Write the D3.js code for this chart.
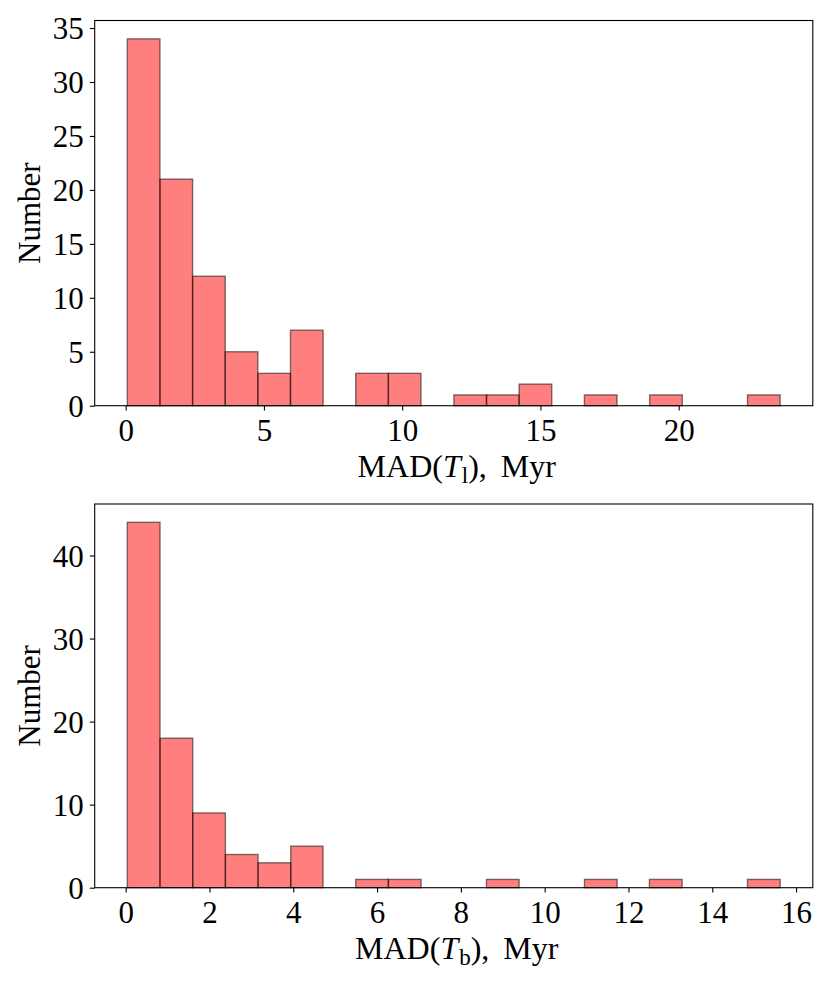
<!DOCTYPE html>
<html><head><meta charset="utf-8">
<script src="https://cdn.jsdelivr.net/npm/d3@7"></script>
<style>body{margin:0;background:#fff}svg{display:block}text{font-family:"Liberation Serif","DejaVu Serif",serif;fill:#000}</style>
</head><body>
<div id="chart"></div>
<script>
// Panel 1: MAD(T_l)
const edgesL = [0.06,1.24,2.42,3.60,4.78,5.96,7.14,8.32,9.50,10.68,11.87,13.05,14.23,15.41,16.59,17.77,18.95,20.13,21.31,22.49,23.67];
const countsL = [34,21,12,5,3,7,0,3,3,0,1,1,2,0,1,0,1,0,0,1];
const xTicksL = [0,5,10,15,20];
const yTicksL = [0,5,10,15,20,25,30,35];
// Panel 2: MAD(T_b)
const edgesB = [0.04,0.82,1.60,2.38,3.16,3.94,4.71,5.49,6.27,7.05,7.83,8.61,9.39,10.17,10.95,11.73,12.50,13.28,14.06,14.84,15.62];
const countsB = [44,18,9,4,3,5,0,1,1,0,0,1,0,0,1,0,1,0,0,1];
const xTicksB = [0,2,4,6,8,10,12,14,16];
const yTicksB = [0,10,20,30,40];

const W = 830, H = 986;
const svg = d3.select("#chart").append("svg").attr("width", W).attr("height", H);

function panel(cfg) {
  const {edges, counts, xTicks, yTicks, top, bottom, sub} = cfg;
  const left = 94.7, right = 812.8;
  const lo = edges[0], hi = edges[edges.length - 1], m = (hi - lo) * 0.05;
  const x = d3.scaleLinear().domain([lo - m, hi + m]).range([left, right]);
  const ymax = d3.max(counts) * 1.05;
  const y = d3.scaleLinear().domain([0, ymax]).range([bottom, top]);
  const g = svg.append("g");
  const bins = counts.map((c, i) => ({x0: edges[i], x1: edges[i + 1], c}));
  g.selectAll("rect.bar").data(bins.filter(b => b.c > 0)).enter().append("rect")
    .attr("class", "bar")
    .attr("x", d => x(d.x0)).attr("width", d => x(d.x1) - x(d.x0))
    .attr("y", d => y(d.c)).attr("height", d => y(0) - y(d.c))
    .attr("fill", "red").attr("fill-opacity", 0.5)
    .attr("stroke", "black").attr("stroke-opacity", 0.5).attr("stroke-width", 1.4);

  const xa = g.append("g").attr("transform", `translate(0,${bottom})`)
    .call(d3.axisBottom(x).tickValues(xTicks).tickSize(4.9).tickPadding(6).tickFormat(d3.format("d")));
  const ya = g.append("g").attr("transform", `translate(${left},0)`)
    .call(d3.axisLeft(y).tickValues(yTicks).tickSize(4.9).tickPadding(6).tickFormat(d3.format("d")));
  [xa, ya].forEach(a => {
    a.select(".domain").remove();
    a.selectAll(".tick line").attr("stroke", "#000").attr("stroke-width", 1.1);
    a.selectAll(".tick text").attr("font-size", 31).attr("font-family", '"Liberation Serif",serif').attr("fill", "#000");
  });
  xa.selectAll(".tick text").attr("dy", null).attr("y", 35).attr("dominant-baseline", null);
  ya.selectAll(".tick text").attr("dy", "0.34em");

  g.append("rect").attr("x", left).attr("y", top).attr("width", right - left).attr("height", bottom - top)
    .attr("fill", "none").attr("stroke", "#000").attr("stroke-width", 1.1);

  const xl = g.append("text").attr("x", (left + right) / 2 + 3).attr("y", bottom + 71)
    .attr("text-anchor", "middle").attr("font-size", 32);
  xl.append("tspan").text("MAD(");
  xl.append("tspan").attr("font-style", "italic").text("T");
  xl.append("tspan").attr("font-size", 23).attr("dy", 6).attr("dx", 1).text(sub);
  xl.append("tspan").attr("dy", -6).text("),");
  xl.append("tspan").attr("dx", 14).text("Myr");

  g.append("text").attr("transform", `translate(40,${(top + bottom) / 2}) rotate(-90)`)
    .attr("text-anchor", "middle").attr("font-size", 31).text("Number");
}

panel({edges: edgesL, counts: countsL, xTicks: xTicksL, yTicks: yTicksL, top: 20.5, bottom: 405.7, sub: "l"});
panel({edges: edgesB, counts: countsB, xTicks: xTicksB, yTicks: yTicksB, top: 504, bottom: 887.7, sub: "b"});
</script>
</body></html>
